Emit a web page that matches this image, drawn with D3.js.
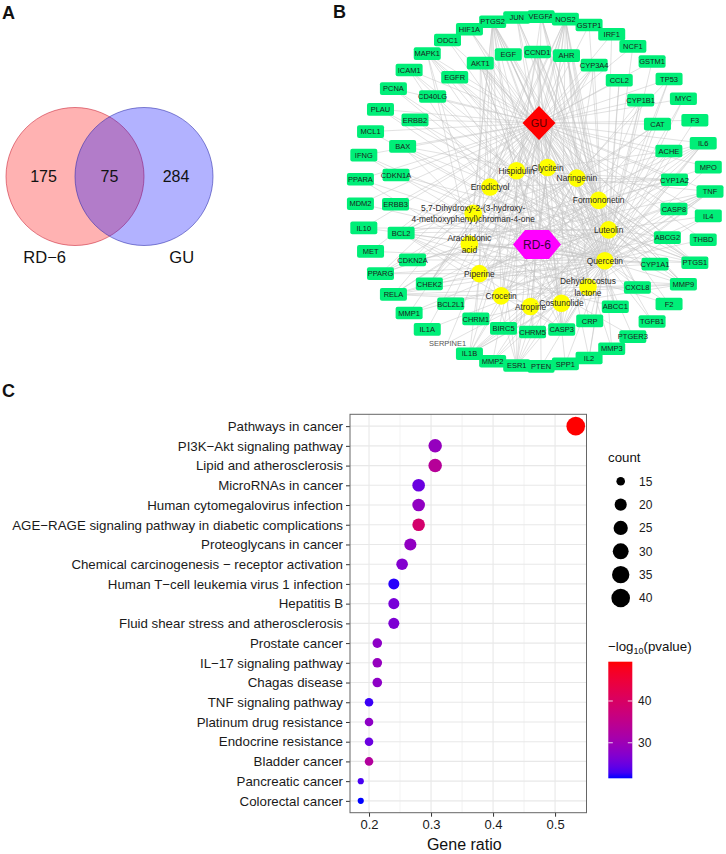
<!DOCTYPE html>
<html><head><meta charset="utf-8">
<script src="https://cdn.jsdelivr.net/npm/d3@7"></script>
<style>
body{margin:0;background:#fff}
svg{display:block}
text{font-family:"Liberation Sans",Arial,Helvetica,sans-serif}
</style>
</head><body>
<svg id="c" width="726" height="854"></svg>
<script>
// ---------------- DATA ----------------
// Panel A: Venn
const vennLabels = ["RD\u22126", "GU"];
const vennCounts = [175, 75, 284]; // RD-6 only, shared, GU only

// Panel B: network
const outerTargets = ["JUN","VEGFA","NOS2","GSTP1","IRF1","NCF1","GSTM1","TP53","MYC","F3","IL6","MPO","TNF","IL4","THBD","PTGS1","MMP9","F2","TGFB1","PTGER3","MMP3","IL2","SPP1","PTEN","ESR1","MMP2","IL1B","SERPINE1","IL1A","MMP1","RELA","PPARG","MET","IL10","MDM2","PPARA","IFNG","MCL1","PLAU","PCNA","ICAM1","MAPK1","ODC1","HIF1A","PTGS2"];
const innerTargets = ["EGF","CCND1","AHR","CYP3A4","CCL2","CYP1B1","CAT","ACHE","CYP1A2","CASP8","ABCG2","CYP1A1","CXCL8","ABCC1","CRP","CASP3","CHRM5","BIRC5","CHRM1","BCL2L1","CHEK2","CDKN2A","BCL2","ERBB3","CDKN1A","BAX","ERBB2","CD40LG","EGFR","AKT1"];
const compounds = ["Glycitein","Naringenin","Formononetin","Luteolin","Quercetin","Dehydrocostus\nlactone","Costunolide","Atropine","Crocetin","Piperine","Arachidonic\nacid","5,7-Dihydroxy-2-(3-hydroxy-\n4-methoxyphenyl)chroman-4-one","Eriodictyol","Hispidulin"];
const compoundTargets = [
  ["PTGS2","PTGS1","ESR1","NOS2","CHEK2","CCND1","PPARG","ACHE"],
  ["PTGS2","PTGS1","ESR1","NOS2","AKT1","CASP3","BCL2","BAX","CYP3A4","MMP9","IL6","TNF","VEGFA","CYP1A2","CYP1B1","CAT","RELA","IL1B","PPARG","ABCC1"],
  ["PTGS2","PTGS1","ESR1","NOS2","AKT1","JUN","CASP3","BCL2","MAPK1","CCND1","MMP2","MMP9","VEGFA","CHEK2","PPARG","CYP1A2","CYP1B1","AHR"],
  ["PTGS2","PTGS1","NOS2","AKT1","JUN","VEGFA","CCND1","BCL2","BAX","CASP3","MMP2","MMP9","IL6","TNF","IL1B","ICAM1","CDKN1A","EGFR","CYP1A1","CYP1B1","MAPK1","RELA","HIF1A","TP53","MYC","ESR1","IL10","IL2","IL4","AHR","CXCL8","CCL2","BIRC5","PLAU","MMP1","CDKN2A","ERBB2","PCNA","CYP1A2","ABCG2"],
  ["PTGS2","HIF1A","ODC1","MAPK1","ICAM1","PCNA","PLAU","MCL1","IFNG","PPARA","MDM2","IL10","MET","PPARG","RELA","MMP1","IL1A","SERPINE1","IL1B","MMP2","ESR1","PTEN","SPP1","IL2","MMP3","TGFB1","F2","MMP9","PTGS1","THBD","IL4","TNF","MPO","IL6","F3","MYC","TP53","GSTM1","NCF1","IRF1","GSTP1","NOS2","VEGFA","JUN","EGF","CCND1","AHR","CYP3A4","CCL2","CYP1B1","CAT","ACHE","CYP1A2","CASP8","ABCG2","CYP1A1","CXCL8","ABCC1","CRP","CASP3","BIRC5","CHEK2","CDKN2A","BCL2","ERBB3","CDKN1A","BAX","ERBB2","CD40LG","EGFR","AKT1","BCL2L1"],
  ["PTGS2","NOS2","RELA","TNF","IL6","IL1B","CASP3","BCL2","MMP9","AKT1","MAPK1","CXCL8","IL4","IFNG"],
  ["PTGS2","NOS2","BCL2","CASP3","TNF","IL6","RELA","MMP9","CCND1","AKT1","JUN","BAX","IL1B","ICAM1"],
  ["CHRM1","CHRM5","ACHE","PTGS2","NOS2","CASP3","TNF","IL1B"],
  ["PTGS2","BCL2","CASP3","TNF","IL6","MMP9","VEGFA","CAT","NOS2","IL1B","RELA"],
  ["PTGS2","CYP3A4","CYP1A2","CYP1A1","ABCG2","ABCC1","TNF","IL6","AKT1","NOS2","CASP3","BCL2","MMP9","IL1B","RELA","CHRM1","ACHE","PPARG","TP53"],
  ["PTGS2","PTGS1","PTGER3","PPARA","PPARG","CYP1A1","CYP3A4","IL6","TNF","RELA","MPO","CAT","F2","MAPK1"],
  ["PTGS2","PTGS1","ESR1","NOS2","CHEK2","CCND1","MAPK1"],
  ["PTGS2","PTGS1","ESR1","NOS2","AKT1","CASP3","BCL2","CCND1","MMP9","CYP1A2"],
  ["PTGS2","PTGS1","NOS2","ESR1","CCND1","AKT1","BCL2","CASP3","CHEK2","CYP1A2","CYP3A4"]
];

// Panel C: KEGG dot plot
const pathways = ["Pathways in cancer","PI3K\u2212Akt signaling pathway","Lipid and atherosclerosis","MicroRNAs in cancer","Human cytomegalovirus infection","AGE\u2212RAGE signaling pathway in diabetic complications","Proteoglycans in cancer","Chemical carcinogenesis \u2212 receptor activation","Human T\u2212cell leukemia virus 1 infection","Hepatitis B","Fluid shear stress and atherosclerosis","Prostate cancer","IL\u221217 signaling pathway","Chagas disease","TNF signaling pathway","Platinum drug resistance","Endocrine resistance","Bladder cancer","Pancreatic cancer","Colorectal cancer"];
const geneCount = [40,23,23,21,21,21,20,19,18,18,18,16,16,16,15,15,15,15,14,14];
const geneRatio = geneCount.map(c => c / 75);
const negLog10P = [49.4,29.0,33.5,25.0,28.5,39.0,28.5,27.0,22.0,26.0,26.5,28.0,29.0,28.0,22.5,28.0,25.0,33.0,23.0,21.5];
const xTicks = [0.2,0.3,0.4,0.5];
const xMinorTicks = [0.25,0.35,0.45];
const sizeBreaks = [15,20,25,30,35,40];
const colorBreaks = [30,40];

// ---------------- DRAW ----------------
const svg = d3.select("#c");
const F = "Liberation Sans, Arial, Helvetica, sans-serif";

// panel letters
[["A",2,19],["B",333,18],["C",2,397]].forEach(([t,x,y]) =>
  svg.append("text").attr("x",x).attr("y",y).attr("font-size",18).attr("font-weight","bold").attr("fill","#111").text(t));

// ===== Panel A: Venn =====
const vx = d3.scaleLinear().domain([0,1]).range([75,144]);
const vr = 69, vcy = 176.5;
const gA = svg.append("g");
gA.append("circle").attr("cx",vx(0)).attr("cy",vcy).attr("r",vr)
  .attr("fill","rgba(255,0,0,0.3)").attr("stroke","rgba(200,30,50,0.55)").attr("stroke-width",1);
gA.append("circle").attr("cx",vx(1)).attr("cy",vcy).attr("r",vr)
  .attr("fill","rgba(0,0,255,0.3)").attr("stroke","rgba(40,40,170,0.55)").attr("stroke-width",1);
const countX = [43.5, vx(0.5), 176];
vennCounts.forEach((c,i) => gA.append("text").attr("x",countX[i]).attr("y",vcy).attr("dy","0.36em")
  .attr("text-anchor","middle").attr("font-size",16).attr("fill","#111").text(c));
const labX = [44.7, 181.7];
vennLabels.forEach((l,i) => gA.append("text").attr("x",labX[i]).attr("y",263).attr("text-anchor","middle")
  .attr("font-size",16.5).attr("fill","#111").text(l));

// ===== Panel B: network =====
const gB = svg.append("g");
const pos = {};
function ring(names, cx, cy, r, startDeg) {
  const ang = d3.scaleLinear().domain([0, names.length]).range([startDeg, startDeg + 360]);
  names.forEach((n,i) => {
    const a = ang(i) * Math.PI / 180;
    pos[n] = {x: cx + r*Math.cos(a), y: cy + r*Math.sin(a)};
  });
}
ring(outerTargets, 535, 191.5, 175, -96);
ring(innerTargets, 535, 192, 140, -101);
ring(compounds, 539, 237, 70, -83);
const GU = {x:539, y:123}, RD = {x:537, y:244.5};

const edges = [];
outerTargets.concat(innerTargets).forEach(t => edges.push([GU, pos[t]]));
compounds.forEach((c,i) => {
  edges.push([RD, pos[c]]);
  compoundTargets[i].forEach(t => edges.push([pos[c], pos[t]]));
});
gB.append("g").selectAll("line").data(edges).join("line")
  .attr("x1",d=>d[0].x).attr("y1",d=>d[0].y).attr("x2",d=>d[1].x).attr("y2",d=>d[1].y)
  .attr("stroke","#c4c4c4").attr("stroke-width",0.6).attr("stroke-opacity",0.85);

// target boxes
const allT = outerTargets.concat(innerTargets);
const tg = gB.append("g").selectAll("g").data(allT).join("g")
  .attr("transform", d => `translate(${pos[d].x},${pos[d].y})`);
tg.filter(d => d !== "SERPINE1").append("rect").attr("x",-13.5).attr("y",-6.3).attr("width",27).attr("height",12.6)
  .attr("rx",2).attr("fill","#00ee78");
tg.append("text").attr("text-anchor","middle").attr("dy","0.36em").attr("font-size",7.5)
  .attr("fill", d => d === "SERPINE1" ? "#555" : "#1c1c1c").text(d => d);

// compounds
const cg = gB.append("g").selectAll("g").data(compounds).join("g")
  .attr("transform", d => `translate(${pos[d].x},${pos[d].y})`);
cg.append("circle").attr("r",8.8).attr("fill","#ffff00");
cg.append("text").attr("text-anchor","middle").attr("font-size",8.4).attr("fill","#2a2a2a")
  .each(function(d){
    const lines = d.split("\n");
    const t = d3.select(this);
    lines.forEach((l,k) => t.append("tspan").attr("x",0)
      .attr("y", (k - (lines.length-1)/2) * 11.5).attr("dy","0.36em").text(l));
  });

// GU diamond
gB.append("path").attr("d", `M${GU.x},${GU.y-17} L${GU.x+16.5},${GU.y} L${GU.x},${GU.y+17} L${GU.x-16.5},${GU.y} Z`)
  .attr("fill","#ff0000");
gB.append("text").attr("x",GU.x).attr("y",GU.y).attr("dy","0.36em").attr("text-anchor","middle")
  .attr("font-size",11).attr("fill","#5a0000").text("GU");
// RD-6 hexagon
const hw = 24, hh = 14.5, hi = 12;
gB.append("path").attr("d", `M${RD.x-hw},${RD.y} L${RD.x-hi},${RD.y-hh} L${RD.x+hi},${RD.y-hh} L${RD.x+hw},${RD.y} L${RD.x+hi},${RD.y+hh} L${RD.x-hi},${RD.y+hh} Z`)
  .attr("fill","#ff00ff");
gB.append("text").attr("x",RD.x).attr("y",RD.y).attr("dy","0.36em").attr("text-anchor","middle")
  .attr("font-size",12).attr("fill","#3a003a").text("RD-6");

// ===== Panel C: dot plot =====
const gC = svg.append("g");
const [rmin, rmax] = d3.extent(geneRatio);
const pad = (rmax - rmin) * 0.05;
const px0 = 350, px1 = 586.5, py0 = 414.3, py1 = 812.7;
const x = d3.scaleLinear().domain([rmin - pad, rmax + pad]).range([px0, px1]);
const y = d3.scalePoint().domain(pathways).range([py0, py1]).padding(0.6);
const [cmin, cmax] = d3.extent(geneCount);
const sNorm = d3.scaleLinear().domain([cmin, cmax]).range([0,1]);
const rScale = d3.scaleLinear().domain([0,1]).range([3.08, 9.3]);
const radius = c => rScale(Math.sqrt(sNorm(c)));
const [pmin, pmax] = d3.extent(negLog10P);
const color = d3.scaleLinear().domain([pmin, pmax]).range(["#0000ff","#ff0000"]).interpolate(d3.interpolateLab);

// grid
gC.append("g").selectAll("line").data(xMinorTicks).join("line")
  .attr("x1",d=>x(d)).attr("x2",d=>x(d)).attr("y1",py0).attr("y2",py1)
  .attr("stroke","#f0f0f0").attr("stroke-width",0.9);
gC.append("g").selectAll("line").data(xTicks).join("line")
  .attr("x1",d=>x(d)).attr("x2",d=>x(d)).attr("y1",py0).attr("y2",py1)
  .attr("stroke","#e8e8e8").attr("stroke-width",1.1);
gC.append("g").selectAll("line").data(pathways).join("line")
  .attr("x1",px0).attr("x2",px1).attr("y1",d=>y(d)).attr("y2",d=>y(d))
  .attr("stroke","#e8e8e8").attr("stroke-width",1.1);

// axes
const yAxis = d3.axisLeft(y).tickSize(4).tickPadding(3);
const yg = gC.append("g").attr("transform",`translate(${px0},0)`).call(yAxis);
yg.select(".domain").remove();
yg.selectAll("line").attr("stroke","#333");
yg.selectAll("text").attr("font-size",13.3).attr("fill","#1a1a1a").attr("font-family",F);
const xAxis = d3.axisBottom(x).tickValues(xTicks).tickFormat(d3.format(".1f")).tickSize(4).tickPadding(3);
const xg = gC.append("g").attr("transform",`translate(0,${py1})`).call(xAxis);
xg.select(".domain").remove();
xg.selectAll("line").attr("stroke","#333");
xg.selectAll("text").attr("font-size",13).attr("fill","#1a1a1a").attr("font-family",F);
gC.append("text").attr("x",(px0+px1)/2 - 4).attr("y",850).attr("text-anchor","middle")
  .attr("font-size",16).attr("fill","#111").text("Gene ratio");

// dots
gC.append("g").selectAll("circle").data(pathways).join("circle")
  .attr("cx",(d,i)=>x(geneRatio[i])).attr("cy",d=>y(d))
  .attr("r",(d,i)=>radius(geneCount[i])).attr("fill",(d,i)=>color(negLog10P[i]));

// border
gC.append("rect").attr("x",px0).attr("y",py0).attr("width",px1-px0).attr("height",py1-py0)
  .attr("fill","none").attr("stroke","#666").attr("stroke-width",1);

// legend: size
const lg = svg.append("g");
lg.append("text").attr("x",608).attr("y",462).attr("font-size",13.3).attr("fill","#111").text("count");
const ly = d3.scalePoint().domain(sizeBreaks).range([481.3, 598]);
lg.selectAll("circle").data(sizeBreaks).join("circle")
  .attr("cx",620.7).attr("cy",d=>ly(d)).attr("r",d=>radius(d)).attr("fill","#000");
lg.selectAll("text.sl").data(sizeBreaks).join("text").attr("class","sl")
  .attr("x",639).attr("y",d=>ly(d)).attr("dy","0.36em").attr("font-size",12).attr("fill","#1a1a1a").text(d=>d);

// legend: colour
const ct = lg.append("text").attr("x",608).attr("y",651).attr("font-size",13.3).attr("fill","#111");
ct.append("tspan").text("\u2212log");
ct.append("tspan").attr("font-size",9).attr("dy",3).text("10");
ct.append("tspan").attr("dy",-3).text("(pvalue)");
const defs = svg.append("defs");
const grad = defs.append("linearGradient").attr("id","cg").attr("x1",0).attr("y1",1).attr("x2",0).attr("y2",0);
d3.range(0,1.0001,0.05).forEach(t => grad.append("stop").attr("offset",t)
  .attr("stop-color", color(pmin + t*(pmax-pmin))));
const cb0 = 608.3, cbw = 24, cbTop = 661.7, cbBot = 778.3;
lg.append("rect").attr("x",cb0).attr("y",cbTop).attr("width",cbw).attr("height",cbBot-cbTop).attr("fill","url(#cg)");
const cy = d3.scaleLinear().domain([pmin,pmax]).range([cbBot, cbTop]);
colorBreaks.forEach(v => {
  lg.append("line").attr("x1",cb0).attr("x2",cb0+4.5).attr("y1",cy(v)).attr("y2",cy(v)).attr("stroke","#fff").attr("stroke-width",0.8);
  lg.append("line").attr("x1",cb0+cbw-4.5).attr("x2",cb0+cbw).attr("y1",cy(v)).attr("y2",cy(v)).attr("stroke","#fff").attr("stroke-width",0.8);
  lg.append("text").attr("x",638).attr("y",cy(v)).attr("dy","0.36em").attr("font-size",12).attr("fill","#1a1a1a").text(v);
});
</script>
</body></html>
